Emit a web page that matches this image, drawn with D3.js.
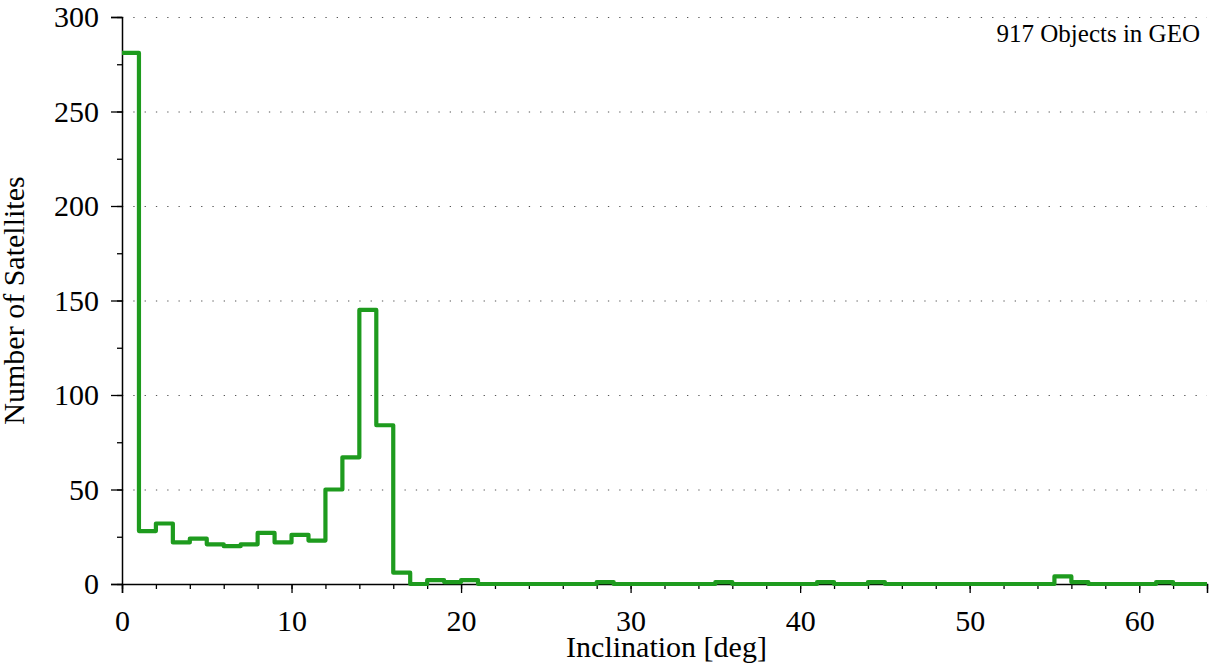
<!DOCTYPE html>
<html>
<head>
<meta charset="utf-8">
<script src="https://cdn.jsdelivr.net/npm/d3@7"></script>
<style>
  body { margin: 0; background: #fff; }
  text { font-family: "Liberation Serif", "Times New Roman", serif; fill: #000; }
</style>
</head>
<body>
<div id="chart"></div>
<script>
// one-degree inclination bins, left edges 0..63
const binEdges = d3.range(0, 65);
const counts = [
  281, 28, 32, 22, 24, 21, 20, 21, 27, 22,
  26, 23, 50, 67, 145, 84, 6, 0, 2, 1,
  2, 0, 0, 0, 0, 0, 0, 0, 1, 0,
  0, 0, 0, 0, 0, 1, 0, 0, 0, 0,
  0, 1, 0, 0, 1, 0, 0, 0, 0, 0,
  0, 0, 0, 0, 0, 4, 1, 0, 0, 0,
  0, 1, 0, 0
];
const xTicks = [0, 10, 20, 30, 40, 50, 60];
const yTicks = [0, 50, 100, 150, 200, 250, 300];
const annotation = '917 Objects in GEO';

const width = 1217;
const height = 670;
const margin = { top: 17, right: 10, bottom: 86, left: 122 };
const innerWidth = width - margin.left - margin.right;
const innerHeight = height - margin.top - margin.bottom;

const root = d3.select('#chart')
  .append('svg')
  .attr('width', width)
  .attr('height', height);

const svg = root.append('g')
  .attr('transform', `translate(${margin.left},${margin.top})`);

const xScale = d3.scaleLinear().domain([0, 64]).range([0, innerWidth]);
const yScale = d3.scaleLinear().domain([0, 300]).range([innerHeight, 0]);

// dotted grid lines
svg.append('g')
  .selectAll('line')
  .data(yTicks.filter(d => d > 0))
  .enter()
  .append('line')
  .attr('x1', 0)
  .attr('x2', innerWidth)
  .attr('y1', d => yScale(d) + 0.5)
  .attr('y2', d => yScale(d) + 0.5)
  .attr('stroke', '#555')
  .attr('stroke-width', 1.2)
  .attr('stroke-dasharray', '1.3,10');

// minor ticks (no labels)
svg.append('g')
  .attr('transform', `translate(0,${innerHeight})`)
  .call(d3.axisBottom(xScale).tickValues(d3.range(0, 65, 2)).tickSize(5))
  .call(g => g.select('.domain').remove())
  .call(g => g.selectAll('text').remove());

svg.append('g')
  .call(d3.axisLeft(yScale).tickValues(d3.range(0, 301, 25)).tickSize(5))
  .call(g => g.select('.domain').remove())
  .call(g => g.selectAll('text').remove());

// major axes
const xAxis = svg.append('g')
  .attr('transform', `translate(0,${innerHeight})`)
  .call(d3.axisBottom(xScale).tickValues(xTicks).tickSize(9).tickPadding(17));
xAxis.selectAll('text').attr('font-size', '30px');

const yAxis = svg.append('g')
  .call(d3.axisLeft(yScale).tickValues(yTicks).tickSize(11).tickPadding(12));
yAxis.selectAll('text').attr('font-size', '30px');

svg.selectAll('.domain').attr('stroke', '#000').attr('stroke-width', 1.5);
svg.selectAll('.tick line').attr('stroke', '#000').attr('stroke-width', 1.3);

// step histogram outline
const steps = binEdges.map((e, i) => ({ x: e, y: counts[Math.min(i, counts.length - 1)] }));

const line = d3.line()
  .x(d => xScale(d.x))
  .y(d => yScale(d.y))
  .curve(d3.curveStepAfter);

svg.append('path')
  .datum(steps)
  .attr('fill', 'none')
  .attr('stroke', '#1e9b1e')
  .attr('stroke-width', 4.2)
  .attr('stroke-linejoin', 'round')
  .attr('d', line);

// labels
svg.append('text')
  .attr('x', innerWidth / 2 + 2)
  .attr('y', innerHeight + 73)
  .attr('text-anchor', 'middle')
  .attr('font-size', '30px')
  .text('Inclination [deg]');

svg.append('text')
  .attr('transform', 'rotate(-90)')
  .attr('x', -innerHeight / 2)
  .attr('y', -98)
  .attr('text-anchor', 'middle')
  .attr('font-size', '30px')
  .text('Number of Satellites');

svg.append('text')
  .attr('x', innerWidth - 7)
  .attr('y', 25)
  .attr('text-anchor', 'end')
  .attr('font-size', '25px')
  .text(annotation);
</script>
</body>
</html>
